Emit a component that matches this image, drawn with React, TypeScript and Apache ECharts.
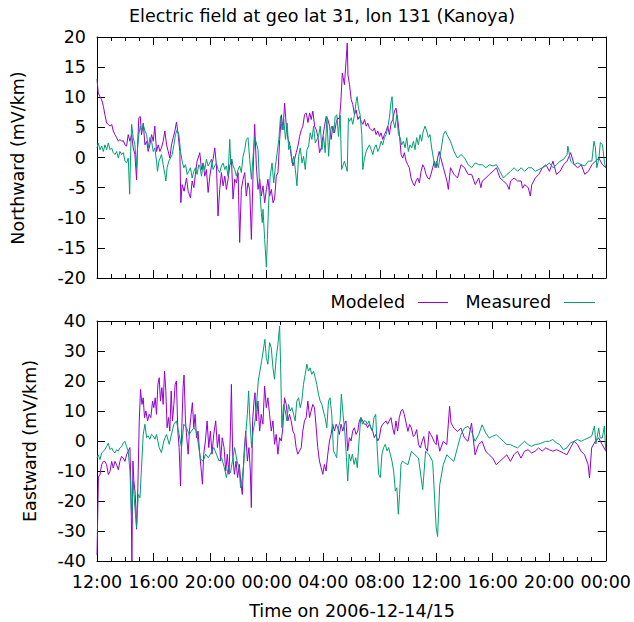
import React, { useEffect, useRef } from "react";
import * as echarts from "echarts";

// hours since 2006-12-14 12:00, value in mV/km
const northModeled: [number, number][] = [
  [0,13],[0.09,10.7],[0.21,10.1],[0.33,9.6],[0.45,8.5],[0.56,7.1],[0.68,5.7],[0.8,5.5],[0.92,5.2],[1.04,5.5],[1.15,4.4],[1.27,3.8],[1.39,3.3],[1.51,2.7],[1.62,3.0],[1.74,2.7],[1.86,2.8],[1.98,2.1],[2.09,1.9],[2.21,3.8],[2.33,2.7],[2.45,3.8],[2.56,1.6],[2.68,0.5],[2.8,-3.7],[2.87,2.1],[2.96,6.6],[3.06,6.8],[3.15,3.8],[3.27,5.7],[3.39,2.1],[3.51,2.7],[3.62,1.0],[3.74,2.1],[3.86,3.8],[3.98,2.7],[4.09,5.2],[4.21,1.0],[4.33,2.1],[4.45,1.0],[4.56,1.6],[4.68,2.7],[4.8,4.4],[4.92,2.1],[5.04,1.0],[5.15,-0.1],[5.27,2.1],[5.39,3.3],[5.51,4.4],[5.62,5.9],[5.74,3.8],[5.86,1.0],[5.93,-7.5],[6.02,-4.5],[6.16,-5.6],[6.33,-3.4],[6.45,-5.6],[6.61,-6.7],[6.73,-3.9],[6.85,-5.0],[6.96,-2.8],[7.08,-0.6],
  [7.27,0.8],[7.39,-2],[7.51,-0.9],[7.62,-3.1],[7.74,-2],[7.86,-5.8],[7.98,-3.1],[8.09,-1.4],[8.21,-0.3],[8.33,1.6],[8.45,-1.4],[8.56,-9.7],[8.68,-5.3],[8.8,-2.5],[8.92,-4.7],[9.04,-3.1],[9.15,-5.3],[9.27,-3.6],[9.39,-1.4],[9.51,-0.3],[9.62,-6.9],[9.74,-3.6],[9.86,-4.2],[9.98,-2.5],[10.09,-14.1],[10.21,-5.3],[10.33,-3.6],[10.45,-2.5],[10.56,-6.4],[10.68,-4.2],[10.8,-5.3],[10.92,-13.6],[11.04,-2.5],[11.15,5.5],[11.27,-1.4],[11.39,-5.3],[11.51,-3.6],[11.62,-6.4],[11.74,-4.7],[11.86,-7.5],[11.98,-5.3],[12.09,-3.6],[12.21,-6.4],[12.33,-5.3],[12.45,-7.5],[12.56,-6.9],[12.68,-3.1],[12.8,-2.5],[12.92,3],[13.04,7.1],[13.15,4.6],[13.27,9],[13.39,5.2],[13.51,3],[13.62,2.4],[13.74,0.2],[13.86,-1.4],[13.98,-0.3],[14.09,0.8],[14.21,1.9],[14.33,3.5],[14.45,4.6],[14.56,5.2],[14.68,7.1],[14.8,7.4],[14.92,5.8],[15.04,7.4],[15.15,6.3],[15.27,7.7],[15.39,5.2],[15.51,4.6],[15.62,3.5],[15.74,0.8],[15.86,1.6],[15.98,3.5],[16.09,5.2],[16.21,6.8],[16.33,6.3],[16.45,5.2],[16.56,3],[16.68,5.2],[16.8,4.1],[16.92,5.8],[17.04,6.6],[17.15,6.3],
  [17.25,9.3],[17.35,14],[17.5,12.1],[17.7,19],[17.75,13.7],[17.86,12.1],[17.98,9.6],[18.09,8.8],[18.21,7.1],[18.33,7.9],[18.45,6.3],[18.56,6.8],[18.68,6.0],[18.8,5.5],[18.92,6.3],[19.04,5.2],[19.15,5.7],[19.27,4.9],[19.39,4.6],[19.51,4.4],[19.62,4.9],[19.74,3.8],[19.86,4.4],[19.98,3.5],[20.09,4.1],[20.21,3.0],[20.33,3.8],[20.45,4.4],[20.56,5.2],[20.68,3.8],[20.8,5.7],[20.92,6.3],[21.04,7.7],[21.15,8.2],[21.27,6.3],[21.39,3.8],[21.51,0.5],[21.62,-0.1],[21.74,0.8],[21.86,-0.6],[21.98,-1.2],[22.09,-1.7],[22.21,-3.4],[22.33,-4.2],[22.45,-4.7],[22.56,-3.9],[22.68,-3.4],[22.8,-4.2],[22.92,-2.3],[23.04,-1.2],[23.15,-1.7],[23.27,-2.8],[23.39,-3.4],[23.51,-3.6],[23.62,-2.8],[23.74,-1.7],[23.86,-0.6],[23.98,-1.7],[24.09,-0.1],[24.2,1.0],
  [24.5,-1.7],[24.75,-3.9],[24.85,-5.3],[25,-1.7],[25.25,-2.8],[25.5,-3.4],[25.75,-1.2],[26,-1.7],[26.25,-2.8],[26.5,-2.8],[26.75,-4.5],[27,-3.4],[27.15,-5.0],[27.25,-3.9],[27.5,-3.4],[27.75,-2.8],[28,-2.3],[28.25,-1.7],[28.5,-3.4],[28.75,-3.9],[29,-4.5],[29.15,-5.3],[29.25,-3.9],[29.5,-3.4],[29.75,-3.9],[30,-3.9],[30.1,-5.1],[30.25,-4.5],[30.5,-5.0],[30.65,-6.4],[30.75,-4.5],[31,-3.4],[31.25,-2.8],[31.5,-1.7],[31.75,-1.2],[32,-2.3],[32.25,-0.6],[32.5,-2.8],[32.75,-2.3],[33,-1.2],[33.25,-0.6],[33.5,0.8],[33.75,-1.2],[34,-1.7],[34.25,-1.2],[34.5,-2.8],[34.75,-2.3],[35,-1.2],[35.25,-0.6],[35.5,-0.1],[35.75,-1.2],[36,-1.7]
];

const northMeasured: [number, number][] = [
  [0,1.6],[0.09,2.4],[0.21,1.3],[0.33,1.9],[0.45,1.0],[0.56,2.1],[0.68,1.3],[0.8,2.4],[0.92,1.3],[1.04,1.6],[1.15,0.8],[1.27,0.5],[1.39,1.0],[1.51,-0.1],[1.62,1.0],[1.74,0.5],[1.86,0.8],[1.98,-0.6],[2.09,-0.9],[2.21,-0.1],[2.31,-6.1],[2.38,1.0],[2.45,5.5],[2.56,3.3],[2.68,2.1],[2.8,-1.7],[2.87,1.6],[2.96,3.8],[3.06,5.2],[3.15,4.4],[3.27,5.5],[3.39,4.4],[3.51,3.8],[3.62,1.6],[3.74,3.3],[3.86,2.7],[3.98,1.0],[4.09,1.6],[4.21,-0.6],[4.28,-2.3],[4.38,-0.6],[4.47,-0.1],[4.56,0.5],[4.68,-1.2],[4.8,-2.8],[4.87,-3.9],[4.96,-1.7],[5.08,-0.6],[5.2,-0.1],[5.32,0.5],[5.44,2.1],[5.55,3.8],[5.67,4.6],[5.79,3.8],[5.91,1.0],[6.02,-0.6],[6.14,-1.7],[6.26,-1.2],[6.38,-2.8],[6.49,-2.3],[6.61,-1.7],[6.73,-3.4],[6.85,-2.3],[6.96,-1.7],[7.08,-2.8],[7.2,-1.2],
  [7.27,-1.4],[7.39,-3.1],[7.51,-0.9],[7.62,-2],[7.74,-0.3],[7.86,-1.4],[7.98,-0.9],[8.09,-0.3],[8.21,-2],[8.33,-1.4],[8.45,-0.9],[8.56,-2],[8.68,-2.5],[8.8,-1.4],[8.92,-0.9],[9.04,-2],[9.15,-1.4],[9.27,-3.1],[9.39,3],[9.46,-0.9],[9.55,-0.3],[9.62,-1.4],[9.74,-2],[9.86,-3.1],[9.98,-2],[10.09,-1.4],[10.21,-2.5],[10.33,0.2],[10.45,1.3],[10.56,3],[10.68,3.3],[10.8,-0.3],[10.92,-3.6],[11.04,0.2],[11.15,3.3],[11.27,2.4],[11.39,1.3],[11.51,-5.3],[11.62,-9.1],[11.69,-10.8],[11.74,-8.6],[11.86,-13.6],[11.98,-18.2],[12.05,-13.6],[12.13,-8],[12.25,-3.1],[12.38,-0.9],[12.5,-4.2],[12.62,-1.4],[12.74,0.8],[12.86,3],[12.98,6.8],[13.09,4.6],[13.21,6.3],[13.33,3],[13.45,5.7],[13.56,1.3],[13.68,1.9],[13.8,-0.9],[13.91,0.2],[14.03,-2],[14.14,-4.7],[14.26,0.2],[14.38,1.6],[14.5,-0.9],[14.61,0.2],[14.73,-2],[14.85,1.3],[14.97,1.9],[15.08,4.1],[15.2,3],[15.32,5.2],[15.44,2.4],[15.55,3],[15.67,3.5],[15.79,5.2],[15.91,1.3],[16.02,3.5],[16.14,0.8],[16.26,6.8],[16.38,0.2],[16.49,4.1],[16.61,5.2],[16.73,4.1],[16.85,6.8],[16.96,7.1],[17.08,3.5],[17.15,5.7],
  [17.2,7.0],[17.3,-2.0],[17.5,-0.6],[17.7,-2.3],[17.78,6.5],[17.86,6.0],[17.98,6.6],[18.09,5.5],[18.21,7.1],[18.33,9.3],[18.4,10.1],[18.49,8.2],[18.61,7.1],[18.73,3.8],[18.8,-2.0],[18.92,-0.1],[19.04,1.0],[19.15,1.6],[19.27,2.1],[19.39,1.3],[19.51,0.5],[19.62,1.6],[19.74,2.1],[19.86,1.0],[19.98,1.6],[20.09,2.7],[20.21,2.1],[20.33,3.3],[20.45,3.8],[20.56,4.9],[20.68,6.6],[20.8,9.3],[20.87,10.1],[20.96,6.0],[21.08,4.9],[21.2,7.1],[21.32,3.8],[21.44,3.3],[21.55,2.1],[21.67,2.7],[21.79,1.6],[21.91,3.3],[22.02,1.0],[22.14,2.1],[22.26,1.6],[22.38,2.7],[22.49,1.3],[22.61,3.3],[22.73,2.1],[22.85,3.8],[22.96,2.7],[23.08,4.4],[23.2,5.2],[23.32,4.4],[23.44,3.3],[23.55,3.8],[23.67,1.6],[23.79,-0.1],[23.91,-1.7],[24.02,-0.6],[24.14,-1.7],[24.25,-0.1],
  [24.5,3.8],[24.65,4.4],[24.75,3.8],[25,2.7],[25.25,1.0],[25.5,-0.1],[25.75,0.5],[26,-0.1],[26.25,-1.2],[26.5,-1.7],[26.75,-0.9],[27,-1.2],[27.25,-1.2],[27.5,-1.7],[27.75,-1.2],[28,-1.4],[28.25,-1.2],[28.5,-2.3],[28.75,-3.4],[29,-2.8],[29.25,-2.3],[29.5,-1.7],[29.75,-2.3],[30,-1.7],[30.25,-2.3],[30.5,-1.7],[30.75,-1.7],[31,-2.3],[31.25,-2.0],[31.5,-1.7],[31.75,-1.4],[32,-0.9],[32.25,-1.7],[32.5,-1.2],[32.75,-0.6],[33,-0.3],[33.25,0.5],[33.3,1.9],[33.5,-0.6],[33.75,-1.2],[34,-0.9],[34.25,-1.2],[34.5,-1.4],[34.75,-0.6],[35,-0.6],[35.15,2.7],[35.25,1.6],[35.35,-1.7],[35.5,-0.1],[35.6,2.5],[35.75,2.1],[35.9,-1],[36,-1.7]
];

const eastModeled: [number, number][] = [
  [0,-38],[0.05,-25],[0.1,-12],[0.21,-11.2],[0.33,-7.9],[0.45,-6.8],[0.56,-6.8],[0.68,-7.9],[0.8,-11.2],[0.92,-10.1],[1.04,-6.8],[1.15,-9],[1.27,-6.8],[1.39,-7.9],[1.51,-9.6],[1.62,-6.8],[1.74,-5.1],[1.86,-5.7],[1.98,-6.8],[2.09,-4.6],[2.21,-3.4],
  [2.33,-2.2],[2.4,-15.6],[2.47,-40],[2.54,-6.7],[2.61,-13.3],[2.71,-17.8],[2.8,-29.4],[2.89,-15.6],[2.99,6.7],[3.08,17.2],[3.18,12.2],[3.27,14.4],[3.36,7.8],[3.46,10],[3.58,6.7],[3.69,8.9],[3.81,7.8],[3.93,13.3],[4.02,11.1],[4.12,14.4],[4.21,8.9],[4.31,18.9],[4.4,21.1],[4.49,13.3],[4.59,17.8],[4.68,12.2],[4.78,23.3],[4.87,16.7],[4.96,4.4],[5.06,7.8],[5.15,3.3],[5.25,16.7],[5.34,6.7],[5.44,12.2],[5.53,18.9],[5.62,20],[5.72,3.3],[5.81,-2.2],[5.91,-15],[6,4.4],[6.09,17.8],[6.16,22],[6.26,6.7],[6.35,1.1],[6.45,-4.4],[6.54,3.3],[6.66,8.9],[6.75,12.8],[6.85,4.4],[6.94,8.9],[7.04,1.1],[7.15,3.3],[7.27,-4.4],[7.36,-8.9],[7.46,-14.4],[7.55,-4.4],[7.67,0],[7.79,6.7],[7.91,-2.2],[8.02,3.3],[8.14,-4.4],[8.26,2.2],[8.4,6.7],[8.52,-2.2],[8.64,2.2],[8.75,-6.7],[8.86,1.1],[8.99,-2.2],[9.11,-10],[9.22,-4.4],[9.34,-11.1],[9.44,3.3],[9.51,18.9],[9.6,-4.4],[9.72,-11.1],[9.84,-6.7],[9.95,-12.2],[10.07,-7.8],[10.19,-14.4],[10.28,-17.8],[10.4,-4.4],[10.52,3.3],[10.64,-6.7],[10.75,-2.2],[10.85,-10],[10.92,-22.2],[11.01,6.7],[11.11,13.3],[11.18,16.1],[11.27,6.7],[11.39,13.3],[11.51,3.3],[11.62,8.9],[11.74,5.6],[11.86,18.3],[11.98,11.1],[12.09,14.4],[12.21,8.9],
  [12.33,3.3],[12.45,6.7],[12.56,-1.1],[12.68,2.2],[12.8,-4.4],[12.92,1.1],[13.04,0],[13.15,4.4],[13.27,14.4],[13.39,12.2],[13.51,6.7],[13.62,8.9],[13.74,6.7],[13.86,3.3],[13.98,2.2],[14.09,-2.2],[14.21,-4.4],[14.33,-3.3],[14.45,-2.2],[14.56,3.3],[14.68,6.7],[14.8,7.8],[14.92,13.3],[15.04,7.8],[15.15,10],[15.27,12.2],[15.39,11.1],[15.51,4.4],[15.62,-2.2],[15.74,-6.7],[15.86,-8.9],[15.98,-11.1],[16.09,-7.8],[16.21,-10],[16.33,-4.4],[16.45,0],[16.56,2.2],[16.68,5.6],[16.8,3.3],[16.92,5.6],[17.04,4.4],[17.15,2.2],[17.27,5.6],[17.39,3.3],[17.51,5.6],[17.62,6.7],[17.74,-3.3],[17.86,1.1],[17.98,0],[18.09,3.3],[18.21,4.4],[18.33,2.2],[18.45,3.3],[18.56,6.7],[18.68,7.8],[18.8,6.7],[18.92,5.6],[19.04,5.6],[19.15,4.4],[19.27,5.6],[19.39,4.4],[19.51,3.3],[19.62,1.1],[19.74,2.2],[19.86,0],[19.98,1.1],[20.09,4.4],[20.21,5.6],[20.33,6.1],[20.45,6.7],[20.56,5.6],[20.68,6.7],[20.8,7.8],[20.92,4.4],[21.04,2.2],[21.15,6.7],[21.27,3.3],[21.39,7.8],[21.51,10],[21.62,10.6],[21.74,8.9],
  [22,3.2],[22.12,5.5],[22.25,4.3],[22.38,1.5],[22.5,2.1],[22.62,3.8],[22.75,-1.2],[22.88,-2.3],[23,-0.1],[23.12,1.5],[23.25,-2.3],[23.38,-3.4],[23.5,3.2],[23.62,2.1],[23.75,1.0],[23.88,-0.5],[24,-1.2],[24.05,2.1],[24.25,-3.4],[24.5,-0.1],[24.75,-1.2],[24.95,11.6],[25.05,6],[25.25,4.3],[25.5,3.2],[25.75,4.3],[26,1.0],[26.25,-0.1],[26.5,6],[26.75,-4.6],[27,-1.2],[27.25,-0.1],[27.5,-3.4],[27.75,-4.6],[28,-5.7],[28.25,-7.9],[28.5,-6.8],[28.75,-5.7],[29,-4.6],[29.25,-6.8],[29.5,-4.6],[29.75,-3.4],[30,-5.7],[30.25,-3.4],[30.5,-2.9],[30.75,-4.0],[31,-3.4],[31.25,-2.3],[31.5,-3.4],[31.75,-2.3],[32,-2.9],[32.25,-3.4],[32.5,-2.9],[32.75,-3.4],[33,-4.0],[33.25,-4.6],[33.5,-2.3],[33.75,-0.1],[34,-1.2],[34.25,-3.4],[34.5,-4.6],[34.75,-7.9],[34.85,-12.3],[35,-2.3],[35.25,-0.1],[35.5,1.0],[35.75,-1.2],[36,-3.4]
];

const eastMeasured: [number, number][] = [
  [0,-5.7],[0.09,-4.6],[0.21,-6.2],[0.33,-4],[0.45,-3.4],[0.56,-2.9],[0.68,-1.8],[0.8,-0.7],[0.92,-2.9],[1.04,-2.3],[1.15,-3.4],[1.27,-4],[1.39,-2.9],[1.51,-3.4],[1.62,-2.3],[1.74,-1.8],[1.86,-0.7],[1.98,-0.1],[2.09,-1.8],[2.21,-3.4],
  [2.33,-10],[2.45,-26],[2.56,-13.3],[2.68,-22.2],[2.8,-28.9],[2.92,-17.8],[3.04,-18.9],[3.15,-8.9],[3.27,2.2],[3.39,5.6],[3.51,1.1],[3.62,1.7],[3.74,0.6],[3.86,2.2],[3.98,1.7],[4.1,0.6],[4.21,2.2],[4.4,-2.2],[4.56,-3.9],[4.73,0],[4.92,2.2],[5.11,-1.1],[5.27,2.2],[5.44,5.6],[5.62,6.7],[5.81,2.2],[5.98,-2.2],[6.14,5.6],[6.33,4.4],[6.52,2.2],[6.68,3.3],[6.85,4.4],[7.04,3.3],[7.2,-2.2],[7.34,-6.1],[7.51,-6.7],[7.69,-4.4],[7.88,-5.6],[8.07,-3.9],[8.26,-2.2],[8.45,-4.4],[8.64,-6.7],[8.82,-5.6],[9.01,-8.9],[9.16,-12.2],[9.29,-8.9],[9.44,-10.6],[9.58,-6.7],[9.74,-2.2],[9.91,-6.7],[10.05,-8.9],[10.16,-15.6],[10.28,-12.2],[10.4,-6.7],[10.52,2.2],[10.64,8.9],[10.73,16.7],[10.82,6.7],[10.94,-2.2],[11.05,3.3],[11.18,6.7],[11.29,12.2],[11.41,20],[11.53,23.3],[11.65,26.7],[11.76,30],[11.88,33.9],[11.98,27.8],[12.09,25.6],[12.21,32.8],
  [12.33,31.1],[12.45,24.4],[12.56,20.6],[12.68,27.8],[12.8,32.2],[12.92,38.3],[12.99,25.6],[13.08,4.4],[13.2,12.2],[13.32,10],[13.44,6.7],[13.55,12.2],[13.67,10],[13.79,11.1],[13.91,8.9],[14.02,6.7],[14.14,13.3],[14.26,14.4],[14.38,11.1],[14.49,13.3],[14.61,18.9],[14.73,22.2],[14.85,25.6],[14.96,23.3],[15.08,24.4],[15.2,22.2],[15.32,23.3],[15.44,21.1],[15.55,18.9],[15.67,15.6],[15.79,13.3],[15.91,12.2],[16.02,10],[16.14,7.8],[16.26,4.4],[16.38,13.3],[16.49,14.4],[16.61,8.9],[16.73,-3.3],[16.85,-4.4],[16.96,-5.6],[17.08,4.4],[17.2,6.7],[17.29,15.6],[17.41,8.9],[17.53,3.3],[17.65,-5.6],[17.74,-13.3],[17.84,-4.4],[17.95,-6.7],[18.07,-4.4],[18.19,-7.8],[18.31,-5.6],[18.42,-8.9],[18.54,0],[18.66,7.8],[18.78,5.6],[18.89,6.7],[19.01,6.7],[19.13,5.6],[19.25,6.7],[19.36,4.4],[19.48,3.3],[19.6,7.8],[19.72,8.9],[19.81,-1.1],[19.93,-11.1],[20.05,-12.2],[20.16,-4.4],[20.28,-2.2],[20.4,-1.1],[20.52,-3.3],[20.64,-2.2],[20.75,-4.4],[20.87,-6.7],[20.99,-10],[21.11,-16.7],[21.22,-15.6],[21.32,-24.4],[21.41,-17.8],[21.51,-7.8],[21.62,-6.7],[21.74,-7.2],
  [22,-7.9],[22.25,-3.4],[22.5,-4.6],[22.75,-5.7],[23,-14.6],[23.05,-16.2],[23.25,-3.4],[23.5,-4.6],[23.75,-6.8],[24,-29],[24.1,-31.8],[24.25,-14.6],[24.5,-7.9],[24.75,-4.6],[25,-5.7],[25.25,-6.8],[25.5,-2.3],[25.75,2.1],[26,4.3],[26.25,4.9],[26.5,3.2],[26.75,-0.1],[27,2.1],[27.25,5.4],[27.5,2.7],[27.75,1.0],[28,1.6],[28.25,2.1],[28.5,1.0],[28.75,-0.1],[29,-1.2],[29.25,-1.2],[29.5,-1.8],[29.75,-2.3],[30,-1.2],[30.25,-0.1],[30.5,-1.2],[30.75,-1.8],[31,-1.2],[31.25,-1.0],[31.5,-0.6],[31.75,-0.1],[32,-0.1],[32.25,0.5],[32.5,-0.6],[32.75,-1.2],[33,-2.9],[33.25,-2.3],[33.5,-0.6],[33.75,-0.1],[34,0.5],[34.25,-0.1],[34.5,0.5],[34.75,1.0],[35,1.6],[35.2,5],[35.3,-1],[35.5,4.3],[35.6,1],[35.75,1.0],[35.9,5],[36,-3.4]
];

const TITLE = "Electric field at geo lat 31, lon 131 (Kanoya)";
const NORTH_LABEL = "Northward (mV/km)";
const EAST_LABEL = "Eastward (mV/km)";
const X_LABEL = "Time on 2006-12-14/15";
const SERIES_NAMES = ["Modeled", "Measured"];
const COLORS = ["#9400d3", "#009e73"];

const FONT = "DejaVu Sans";
const FS = 17.5;

export default function App() {
  const ref = useRef<HTMLDivElement>(null);
  useEffect(() => {
    if (!ref.current) return;
    const chart = echarts.init(ref.current, null, { renderer: "svg" });
    const timeFmt = (v: number) => String((12 + v) % 24).padStart(2, "0") + ":00";
    const xBase = (gridIndex: number, position: "top" | "bottom", labels: boolean) => ({
      type: "value",
      gridIndex,
      position,
      min: 0,
      max: 36,
      interval: 4,
      axisLine: { show: true, onZero: false, lineStyle: { color: "#000", width: 1 } },
      axisTick: { show: true, inside: true, length: 8, lineStyle: { color: "#000" } },
      minorTick: { show: true, splitNumber: 4, length: 4, lineStyle: { color: "#000" } },
      splitLine: { show: false },
      axisLabel: {
        show: labels,
        formatter: timeFmt,
        fontFamily: FONT,
        fontSize: FS,
        color: "#000",
        margin: 12,
      },
    });
    const yBase = (gridIndex: number, position: "left" | "right", labels: boolean, min: number, max: number, interval: number) => ({
      type: "value",
      gridIndex,
      position,
      min,
      max,
      interval,
      axisLine: { show: true, onZero: false, lineStyle: { color: "#000", width: 1 } },
      axisTick: { show: true, inside: true, length: 8, lineStyle: { color: "#000" } },
      splitLine: { show: false },
      axisLabel: {
        show: labels,
        fontFamily: FONT,
        fontSize: FS,
        color: "#000",
        margin: 11,
      },
    });
    const text = (x: number, y: number, t: string, align: string, rotation = 0) => ({
      type: "text",
      x,
      y,
      rotation,
      style: {
        text: t,
        fontFamily: FONT,
        fontSize: FS,
        fill: "#000",
        textAlign: align,
        textVerticalAlign: "middle",
      },
    });
    const line = (name: string, color: string, xi: number, yi: number, data: [number, number][]) => ({
      name,
      type: "line",
      xAxisIndex: xi,
      yAxisIndex: yi,
      data,
      showSymbol: false,
      lineStyle: { width: 1, color },
      itemStyle: { color },
    });
    chart.setOption({
      animation: false,
      backgroundColor: "#fff",
      grid: [
        { left: 97, top: 37, width: 509, height: 241 },
        { left: 97, top: 321, width: 509, height: 240 },
      ],
      xAxis: [
        xBase(0, "bottom", false),
        xBase(0, "top", false),
        xBase(1, "bottom", true),
        xBase(1, "top", false),
      ],
      yAxis: [
        yBase(0, "left", true, -20, 20, 5),
        yBase(0, "right", false, -20, 20, 5),
        yBase(1, "left", true, -40, 40, 10),
        yBase(1, "right", false, -40, 40, 10),
      ],
      series: [
        line(SERIES_NAMES[0], COLORS[0], 0, 0, northModeled),
        line(SERIES_NAMES[1], COLORS[1], 0, 0, northMeasured),
        line(SERIES_NAMES[0], COLORS[0], 2, 2, eastModeled),
        line(SERIES_NAMES[1], COLORS[1], 2, 2, eastMeasured),
      ],
      graphic: [
        text(322, 16, TITLE, "center"),
        text(18, 158, NORTH_LABEL, "center", Math.PI / 2),
        text(30, 441, EAST_LABEL, "center", Math.PI / 2),
        text(352, 611, X_LABEL, "center"),
        text(405, 302, SERIES_NAMES[0], "right"),
        { type: "line", shape: { x1: 418, y1: 302.5, x2: 448, y2: 302.5 }, style: { stroke: COLORS[0], lineWidth: 1 } },
        text(551, 302, SERIES_NAMES[1], "right"),
        { type: "line", shape: { x1: 564, y1: 302.5, x2: 595, y2: 302.5 }, style: { stroke: COLORS[1], lineWidth: 1 } },
      ],
    });
    return () => chart.dispose();
  }, []);
  return (
    <div
      ref={ref}
      style={{ position: "absolute", left: 0, top: 0, width: 634, height: 622, background: "#fff" }}
    />
  );
}
